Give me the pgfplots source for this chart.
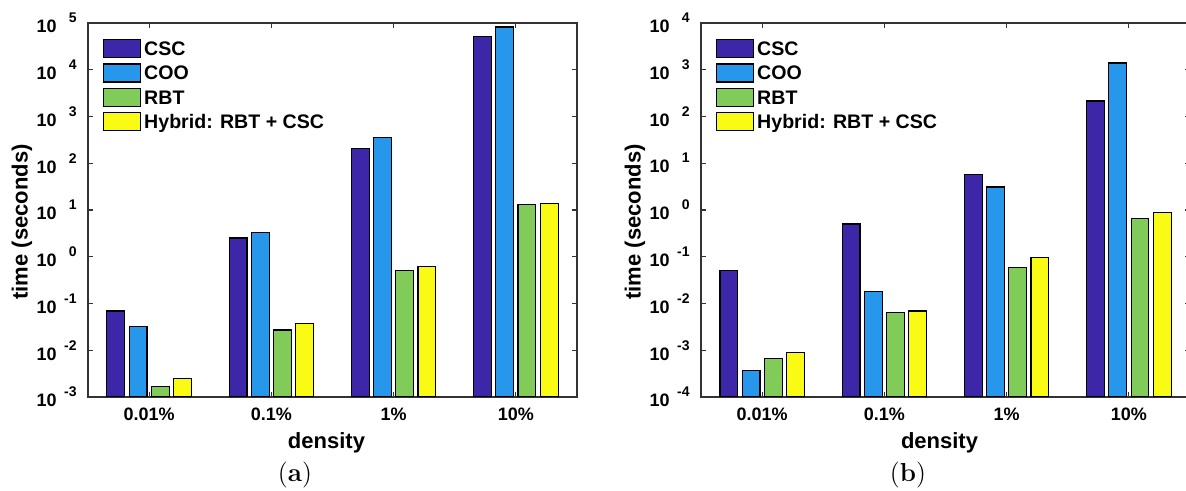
\documentclass[border=0pt]{standalone}
\usepackage{pgfplots}
\pgfplotsset{compat=1.18}
\usepackage{fontspec}
\setsansfont{Liberation Sans}
\definecolor{cCSC}{HTML}{3E26A8}
\definecolor{cCOO}{HTML}{2797EB}
\definecolor{cRBT}{HTML}{81CC59}
\definecolor{cHYB}{HTML}{F9FB15}
\newcommand\tl[1]{10\makebox[10pt][r]{\raisebox{5pt}{\fontsize{7}{8}\selectfont #1}}}
\pgfplotsset{
  every axis/.append style={
    scale only axis, width=244.5pt, height=187pt,
    xmin=0.5, xmax=4.5,
    xtick={1,2,3,4}, xticklabels={0.01\%,0.1\%,1\%,10\%},
    xtick pos=both, ytick pos=both, tick align=inside,
    major tick length=2.5pt, yminorticks=false, xminorticks=false,
    axis line style={draw=black!80, line width=0.6pt},
    major tick style={draw=black!80, line width=0.6pt},
    xticklabel style={inner sep=0pt, anchor=north, yshift=-5.5pt, font=\fontsize{9}{10}\selectfont\sffamily\bfseries},
    yticklabel style={inner sep=0pt, anchor=east, xshift=-5.5pt, font=\fontsize{9}{10}\selectfont\sffamily\bfseries},
    xlabel style={at={(axis description cs:0.5,0)}, anchor=north, inner sep=0pt, yshift=-17.5pt, xshift=-3pt, font=\fontsize{11}{12}\selectfont\sffamily\bfseries},
    ylabel style={at={(axis description cs:-0.135,0.468)}, anchor=center, inner sep=0pt, font=\fontsize{11}{12}\selectfont\sffamily\bfseries},
    legend image code/.code={\draw[#1, line width=0.6pt] (0pt,-4.5pt) rectangle (18.5pt,4.5pt);},
    legend cell align=left,
    legend style={at={(rel axis cs:0,1)}, anchor=north west, xshift=7.5pt, yshift=-8pt,
      draw=none, fill=none, inner sep=0pt, outer sep=0pt, row sep=2.6pt, column sep=1.5pt,
      font=\fontsize{9.8}{11}\selectfont\sffamily\bfseries,
      nodes={inner sep=0pt, outer sep=0pt, text depth=0pt}},
  },
  mybar/.style={ybar, bar width=0.1455, draw=black, line width=0.6pt},
}
\begin{document}
\begin{tikzpicture}
\useasboundingbox (0pt,0pt) rectangle (593pt,245.5pt);
\begin{axis}[at={(44pt,47pt)}, anchor=south west,
  ymode=log, log origin=infty,
  xlabel={density}, ylabel={time (seconds)},
  ymin=1e-3, ymax=1e5,
  ytick={1e-3,1e-2,1e-1,1,1e1,1e2,1e3,1e4,1e5},
  yticklabels={\tl{-3},\tl{-2},\tl{-1},\tl{0},\tl{1},\tl{2},\tl{3},\tl{4},\tl{5}}]
\addplot[mybar, fill=cCSC, bar shift=-0.2727] coordinates {(1,0.069) (2,2.52) (3,210) (4,52000)};
\addplot[mybar, fill=cCOO, bar shift=-0.0909] coordinates {(1,0.032) (2,3.33) (3,360) (4,82000)};
\addplot[mybar, fill=cRBT, bar shift=0.0909] coordinates {(1,0.00166) (2,0.027) (3,0.50) (4,13.2)};
\addplot[mybar, fill=cHYB, bar shift=0.2727] coordinates {(1,0.0025) (2,0.038) (3,0.63) (4,13.9)};
\legend{CSC,COO,RBT,Hybrid: RBT + CSC}
\end{axis}
\begin{axis}[at={(350.5pt,47pt)}, anchor=south west,
  ymode=log, log origin=infty,
  xlabel={density}, ylabel={time (seconds)},
  ymin=1e-4, ymax=1e4,
  ytick={1e-4,1e-3,1e-2,1e-1,1,1e1,1e2,1e3,1e4},
  yticklabels={\tl{-4},\tl{-3},\tl{-2},\tl{-1},\tl{0},\tl{1},\tl{2},\tl{3},\tl{4}}]
\addplot[mybar, fill=cCSC, bar shift=-0.2727] coordinates {(1,0.051) (2,0.50) (3,5.7) (4,214)};
\addplot[mybar, fill=cCOO, bar shift=-0.0909] coordinates {(1,0.00037) (2,0.018) (3,3.1) (4,1390)};
\addplot[mybar, fill=cRBT, bar shift=0.0909] coordinates {(1,0.00067) (2,0.00635) (3,0.060) (4,0.65)};
\addplot[mybar, fill=cHYB, bar shift=0.2727] coordinates {(1,0.00088) (2,0.0069) (3,0.098) (4,0.89)};
\legend{CSC,COO,RBT,Hybrid: RBT + CSC}
\end{axis}
\node[font=\fontsize{13}{14}\selectfont] at (147.5pt,8pt) {(\textbf{a})};
\node[font=\fontsize{13}{14}\selectfont] at (454pt,8pt) {(\textbf{b})};
\end{tikzpicture}
\end{document}
